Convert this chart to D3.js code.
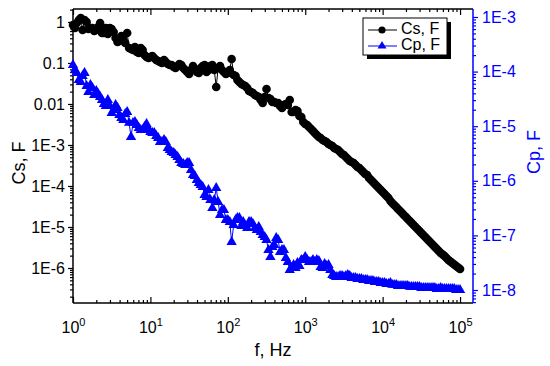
<!DOCTYPE html>
<html><head><meta charset="utf-8">
<script src="https://cdn.jsdelivr.net/npm/d3@7"></script>
<style>body{margin:0;background:#fff}svg{display:block;font-family:"Liberation Sans",Arial,sans-serif}</style>
</head><body><svg id="c" width="550" height="366"></svg>
<script>
// frequency, Hz
const freq=[1,1.12,1.26,1.41,1.58,1.78,2,2.24,2.51,2.82,3.16,3.55,3.98,4.47,5.01,5.62,6.31,7.08,7.94,8.91,
10,11.2,12.6,14.1,15.8,17.8,20,22.4,25.1,28.2,31.6,35.5,39.8,44.7,50.1,56.2,63.1,70.8,79.4,89.1,
100,112,126,141,158,178,200,224,251,282,316,355,398,447,501,562,631,708,794,891,
1000,1120,1260,1410,1580,1780,2000,2240,2510,2820,3160,3550,3980,4470,5010,5620,6310,7080,7940,8910,
10000,11200,12600,14100,15800,17800,20000,22400,25100,28200,31600,35500,39800,44700,50100,56200,63100,70800,79400,89100,
100000];
// Cs, F (left axis)
const cs=[0.845,0.946,1.25,1.12,0.675,0.714,0.638,0.946,0.539,0.51,0.675,0.407,0.344,0.364,0.539,0.22,0.245,0.175,0.207,0.14,
0.14,0.132,0.112,0.1,0.106,0.0894,0.0798,0.0845,0.0894,0.0675,0.054,0.0845,0.0603,0.0755,0.0894,0.0675,0.0894,0.026,0.0845,0.0603,
0.057,0.125,0.0482,0.0344,0.029,0.0245,0.0196,0.0166,0.0148,0.0106,0.0232,0.0132,0.0112,0.0106,0.00798,0.01,0.0125,0.00638,0.00675,0.00482,
0.00325,0.00275,0.00219,0.00175,0.00148,0.00125,0.00106,9.46e-4,7.98e-4,6.75e-4,5.7e-4,4.56e-4,3.85e-4,3.25e-4,2.75e-4,2.19e-4,1.85e-4,1.4e-4,1.12e-4,8.94e-5,
7.14e-5,5.7e-5,4.3e-5,3.44e-5,2.75e-5,2.19e-5,1.75e-5,1.4e-5,1.12e-5,8.94e-6,7.14e-6,5.7e-6,4.56e-6,3.64e-6,2.9e-6,2.32e-6,1.96e-6,1.57e-6,1.32e-6,1.12e-6,
9.46e-7];
// Cp, F (right axis)
const cp=[1.32e-4,9.42e-5,6.45e-5,9.42e-5,4.23e-5,5.01e-5,4.41e-5,3.43e-5,2.55e-5,3.02e-5,1.75e-5,2.45e-5,1.6e-5,1.3e-5,1.82e-5,6.34e-6,1.19e-5,9.27e-6,8.52e-6,1.1e-5,
7.83e-6,7.5e-6,6.08e-6,5.14e-6,5.14e-6,3.66e-6,3.23e-6,2.73e-6,2.12e-6,1.95e-6,2.12e-6,1.28e-6,1.03e-6,8.38e-7,5.5e-7,6.79e-7,3.18e-7,7.38e-7,2.37e-7,2.92e-7,
1.91e-7,7.57e-8,1.91e-7,2.08e-7,1.76e-7,1.37e-7,1.76e-7,1.37e-7,1.43e-7,1.02e-7,8.24e-8,4.02e-8,6.67e-8,8.24e-8,5.41e-8,3.86e-8,2.32e-8,2.87e-8,3.13e-8,3.54e-8,
4.02e-8,3.26e-8,3.54e-8,3.54e-8,2.64e-8,2.99e-8,2.87e-8,1.88e-8,1.73e-8,1.8e-8,1.73e-8,1.88e-8,1.66e-8,1.66e-8,1.59e-8,1.52e-8,1.52e-8,1.46e-8,1.4e-8,1.4e-8,
1.34e-8,1.29e-8,1.34e-8,1.24e-8,1.18e-8,1.18e-8,1.18e-8,1.14e-8,1.14e-8,1.14e-8,1.09e-8,1.09e-8,1.09e-8,1.09e-8,1.04e-8,1.09e-8,1.04e-8,1.04e-8,1.04e-8,1.0e-8,
1.0e-8];
// additional readings between the points above
const freqMid=[1.06,1.19,1.33,1.5,1.68,1.88,2.11,2.37,2.66,2.99,3.35,3.76,4.22,4.73,5.31,5.96,6.68,7.5,8.41,9.44,
10.6,11.9,13.3,15,16.8,18.8,21.1,23.7,26.6,29.9,33.5,37.6,42.2,47.3,53.1,59.6,66.8,75,84.1,94.4,
106,119,133,150,168,188,211,237,266,299,
335,376,422,473,531,596,668,750,841,944,
1060,1190,1330,1500,1680,1880,2110,2370,2660,2990,3350,3760,4220,4730,5310,5960,6680,7500,8410,9440,
10600,11900,13300,15000,16800,18800,21100,23700,26600,29900,33500,37600,42200,47300,53100,59600,66800,75000,84100,94400];
const csMid=[0.714,1.12,0.638,1.0,0.714,0.603,0.755,0.539,0.714,0.714,0.57,0.325,0.456,0.308,0.232,0.207,0.185,0.232,0.157,0.132,
0.148,0.118,0.106,0.118,0.0946,0.0894,0.0755,0.0946,0.0755,0.0603,0.0675,0.0714,0.057,0.0845,0.0603,0.0845,0.0675,0.0755,0.0675,0.054,
0.0675,0.051,0.0385,0.0308,0.0275,0.0207,0.0185,0.0157,0.0125,0.0148,
0.014,0.0112,0.0106,0.00894,0.00946,0.00946,0.00638,0.00714,0.00509,0.00364,
0.00308,0.00246,0.00196,0.00157,0.00132,0.00118,0.001,8.45e-4,7.55e-4,6.03e-4,5.1e-4,4.07e-4,3.64e-4,2.9e-4,2.45e-4,1.96e-4,1.57e-4,1.25e-4,1.0e-4,7.98e-5,
6.38e-5,5.1e-5,3.85e-5,3.08e-5,2.46e-5,1.96e-5,1.57e-5,1.25e-5,1.0e-5,7.98e-6,6.38e-6,5.1e-6,4.07e-6,3.25e-6,2.6e-6,2.13e-6,1.75e-6,1.44e-6,1.22e-6,1.03e-6];
const cpMid=[1.07e-4,7.02e-5,8.3e-5,5.45e-5,5.69e-5,3.73e-5,3.89e-5,3.02e-5,2.34e-5,2.34e-5,1.98e-5,2.15e-5,1.41e-5,1.67e-5,1.15e-5,1.15e-5,1.05e-5,8.52e-6,9.67e-6,8.52e-6,
7.5e-6,6.62e-6,5.14e-6,5.59e-6,3.99e-6,3.37e-6,2.97e-6,2.4e-6,2.03e-6,2.12e-6,1.58e-6,1.22e-6,9.12e-7,7.69e-7,5.05e-7,4.45e-7,4.45e-7,4.09e-7,2.92e-7,1.91e-7,
1.76e-7,1.55e-7,2.08e-7,1.49e-7,1.49e-7,1.76e-7,1.62e-7,1.26e-7,1.15e-7,9.35e-8,
5.41e-8,6.14e-8,8.96e-8,4.97e-8,5.41e-8,3.26e-8,2.53e-8,2.53e-8,2.75e-8,3.54e-8,
3.54e-8,3.26e-8,3.26e-8,3.4e-8,2.53e-8,2.75e-8,2.32e-8,1.8e-8,1.73e-8,1.8e-8,1.8e-8,1.8e-8,1.66e-8,1.59e-8,1.59e-8,1.52e-8,1.46e-8,1.46e-8,1.4e-8,1.34e-8,
1.34e-8,1.29e-8,1.24e-8,1.24e-8,1.18e-8,1.18e-8,1.18e-8,1.14e-8,1.14e-8,1.14e-8,1.09e-8,1.09e-8,1.09e-8,1.09e-8,1.04e-8,1.04e-8,1.04e-8,1.04e-8,1.04e-8,1.0e-8];

const xTicks=[1,10,100,1000,10000,100000];
const xTickExp=["0","1","2","3","4","5"];
const leftTicks=[1,0.1,0.01,1e-3,1e-4,1e-5,1e-6];
const leftLabels=["1","0.1","0.01","1E-3","1E-4","1E-5","1E-6"];
const rightTicks=[1e-3,1e-4,1e-5,1e-6,1e-7,1e-8];
const rightLabels=["1E-3","1E-4","1E-5","1E-6","1E-7","1E-8"];
const seriesNames=["Cs, F","Cp, F"];
const xTitle="f, Hz";

const L=73,R=473,T=9,B=303;
const BLUE="#0000ff";
const svg=d3.select("#c");
const x=d3.scaleLog().domain([1,1.47e5]).range([L,R]);
const yL=d3.scaleLog().domain([1.4e-7,2.07]).range([B,T]);
const yR=d3.scaleLog().domain([5.78e-9,1.4e-3]).range([B,T]);

function minors(dom){
  const lo=Math.floor(Math.log10(dom[0])), hi=Math.ceil(Math.log10(dom[1]));
  const out=[];
  for(let k=lo;k<=hi;k++) for(let m=2;m<=9;m++){const v=m*Math.pow(10,k); if(v>=dom[0]&&v<=dom[1]) out.push(v);}
  return out;
}
function clean(g,color){g.select(".domain").remove();g.selectAll("line").attr("stroke",color).attr("stroke-width",1.2);}

// bottom axis
const gb=svg.append("g").attr("transform",`translate(0,${B})`)
  .call(d3.axisBottom(x).tickValues(xTicks).tickSize(-6).tickPadding(10).tickFormat(""));
clean(gb,"#000");
gb.selectAll(".tick text").remove();
gb.selectAll(".tick").append("text").attr("y",30).attr("fill","#000").attr("font-size",16).attr("text-anchor","middle")
  .each(function(d,i){const t=d3.select(this);t.append("tspan").text("10");t.append("tspan").attr("dy",-7).attr("font-size",11).text(xTickExp[i]);});
const gbm=svg.append("g").attr("transform",`translate(0,${B})`)
  .call(d3.axisBottom(x).tickValues(minors(x.domain())).tickSize(-3).tickFormat(""));
clean(gbm,"#000");
// top axis
const gt=svg.append("g").attr("transform",`translate(0,${T})`)
  .call(d3.axisTop(x).tickValues(xTicks).tickSize(-6).tickFormat(""));
clean(gt,"#000");
const gtm=svg.append("g").attr("transform",`translate(0,${T})`)
  .call(d3.axisTop(x).tickValues(minors(x.domain())).tickSize(-3).tickFormat(""));
clean(gtm,"#000");
// left axis
const gl=svg.append("g").attr("transform",`translate(${L},0)`)
  .call(d3.axisLeft(yL).tickValues(leftTicks).tickSize(5).tickPadding(3).tickFormat((d,i)=>leftLabels[i]));
clean(gl,"#000");
gl.selectAll("text").attr("font-size",16).attr("fill","#000").attr("font-family","Liberation Sans, Arial, sans-serif");
const glm=svg.append("g").attr("transform",`translate(${L},0)`)
  .call(d3.axisLeft(yL).tickValues(minors(yL.domain())).tickSize(3).tickFormat(""));
clean(glm,"#000");
// right axis
const gr=svg.append("g").attr("transform",`translate(${R},0)`)
  .call(d3.axisRight(yR).tickValues(rightTicks).tickSize(5).tickPadding(4).tickFormat((d,i)=>rightLabels[i]));
clean(gr,BLUE);
gr.selectAll("text").attr("font-size",16).attr("fill",BLUE).attr("font-family","Liberation Sans, Arial, sans-serif");
const grm=svg.append("g").attr("transform",`translate(${R},0)`)
  .call(d3.axisRight(yR).tickValues(minors(yR.domain())).tickSize(3).tickFormat(""));
clean(grm,BLUE);

// frame
svg.append("line").attr("x1",L).attr("x2",R).attr("y1",T).attr("y2",T).attr("stroke","#000").attr("stroke-width",1.5);
svg.append("line").attr("x1",L).attr("x2",R).attr("y1",B).attr("y2",B).attr("stroke","#000").attr("stroke-width",1.5);
svg.append("line").attr("x1",L).attr("x2",L).attr("y1",T).attr("y2",B).attr("stroke","#000").attr("stroke-width",1.5);
svg.append("line").attr("x1",R).attr("x2",R).attr("y1",T).attr("y2",B).attr("stroke",BLUE).attr("stroke-width",1.5);

// data (merge both reading sets, sorted by frequency)
const csPts=freq.map((f,i)=>[f,cs[i]]).concat(freqMid.map((f,i)=>[f,csMid[i]])).sort((a,b)=>a[0]-b[0]);
const cpPts=freq.map((f,i)=>[f,cp[i]]).concat(freqMid.map((f,i)=>[f,cpMid[i]])).sort((a,b)=>a[0]-b[0]);
const tri=d3.symbol().type(d3.symbolTriangle).size(46);
svg.append("path").datum(csPts)
  .attr("d",d3.line().x(d=>x(d[0])).y(d=>yL(d[1]))).attr("fill","none").attr("stroke","#000").attr("stroke-width",1);
svg.append("g").selectAll("circle").data(csPts).join("circle")
  .attr("cx",d=>x(d[0])).attr("cy",d=>yL(d[1])).attr("r",4.3).attr("fill","#000");
svg.append("path").datum(cpPts)
  .attr("d",d3.line().x(d=>x(d[0])).y(d=>yR(d[1]))).attr("fill","none").attr("stroke",BLUE).attr("stroke-width",1);
svg.append("g").selectAll("path").data(cpPts).join("path")
  .attr("transform",d=>`translate(${x(d[0])},${yR(d[1])})`).attr("d",tri).attr("fill",BLUE);

// axis titles
svg.append("text").attr("transform","translate(20,163) rotate(-90)").attr("text-anchor","middle").attr("dominant-baseline","middle")
  .attr("font-size",18).attr("fill","#000").text(seriesNames[0]);
svg.append("text").attr("transform","translate(535,152) rotate(-90)").attr("text-anchor","middle").attr("dominant-baseline","middle")
  .attr("font-size",18).attr("fill",BLUE).text(seriesNames[1]);
svg.append("text").attr("x",273).attr("y",356).attr("text-anchor","middle").attr("font-size",18).attr("fill","#000").text(xTitle);

// legend
const lg=svg.append("g");
lg.append("rect").attr("x",367).attr("y",22).attr("width",84).attr("height",37).attr("fill","#000");
lg.append("rect").attr("x",363).attr("y",18).attr("width",84).attr("height",37).attr("fill","#fff").attr("stroke","#000").attr("stroke-width",1);
lg.append("line").attr("x1",368).attr("x2",397).attr("y1",30).attr("y2",30).attr("stroke","#000");
lg.append("circle").attr("cx",382).attr("cy",30).attr("r",3.6).attr("fill","#000");
lg.append("text").attr("x",401).attr("y",30).attr("dominant-baseline","middle").attr("font-size",16).text(seriesNames[0]);
lg.append("line").attr("x1",368).attr("x2",397).attr("y1",46).attr("y2",46).attr("stroke",BLUE);
lg.append("path").attr("transform","translate(382,46)").attr("d",d3.symbol().type(d3.symbolTriangle).size(34)).attr("fill",BLUE);
lg.append("text").attr("x",401).attr("y",46).attr("dominant-baseline","middle").attr("font-size",16).text(seriesNames[1]);
</script></body></html>
